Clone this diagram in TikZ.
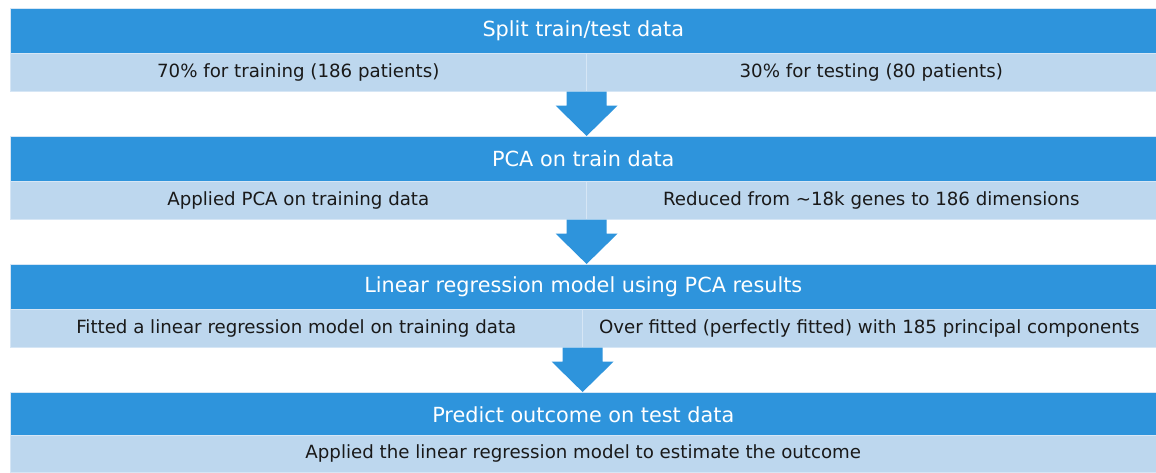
\documentclass[tikz,border=0pt]{standalone}
\usepackage{fontspec}
\setmainfont{DejaVu Sans}
\usetikzlibrary{calc}
\definecolor{hdrblue}{RGB}{46,148,220}
\definecolor{subblue}{RGB}{189,215,238}
\definecolor{edgeblue}{RGB}{214,230,245}
\tikzset{
  hdr/.style={rectangle, fill=hdrblue, draw=edgeblue, line width=0.6pt, inner sep=0pt, anchor=north west,
    minimum height=45pt, text=white, font=\fontsize{20.8}{24}\selectfont},
  subcell/.style={rectangle, fill=subblue, draw=edgeblue, line width=0.6pt, inner sep=0pt, anchor=north west,
    minimum height=38pt, text=black!90, font=\fontsize{18.2}{21}\selectfont},
  flowarrow/.style={fill=hdrblue}
}
\begin{document}
\begin{tikzpicture}[x=1pt,y=-1pt]
\useasboundingbox (0,0) rectangle (1156,472);
% block 1
\node[hdr, minimum width=1146pt] (h1) at (10,8) {Split train/test data};
\node[subcell, minimum width=576pt] (l1) at (10,53) {70\% for training (186 patients)};
\node[subcell, minimum width=570pt] (r1) at (586,53) {30\% for testing (80 patients)};
% block 2
\node[hdr, minimum width=1146pt] (h2) at (10,136) {PCA on train data};
\node[subcell, minimum width=576pt] (l2) at (10,181) {Applied PCA on training data};
\node[subcell, minimum width=570pt] (r2) at (586,181) {Reduced from \textasciitilde18k genes to 186 dimensions};
% block 3
\node[hdr, minimum width=1146pt] (h3) at (10,264) {Linear regression model using PCA results};
\node[subcell, minimum width=572pt] (l3) at (10,309) {Fitted a linear regression model on training data};
\node[subcell, minimum width=574pt] (r3) at (582,309) {Over fitted (perfectly fitted) with 185 principal components};
% block 4
\node[hdr, minimum width=1146pt] (h4) at (10,392) {Predict outcome on test data};
\node[subcell, minimum width=1146pt, minimum height=37pt] (s4) at (10,435) {Applied the linear regression model to estimate the outcome};
% arrows
\foreach \a/\b in {l1/h2, l2/h3, l3/h4}{
  \coordinate (top) at (\a.south east);
  \coordinate (tip) at (\a.south east |- \b.north);
  \fill[flowarrow] ($(top)+(-20,0)$) -- ($(top)+(20,0)$) -- ($(top)+(20,14)$) -- ($(top)+(31,14)$)
    -- (tip) -- ($(top)+(-31,14)$) -- ($(top)+(-20,14)$) -- cycle;
}
\end{tikzpicture}
\end{document}
